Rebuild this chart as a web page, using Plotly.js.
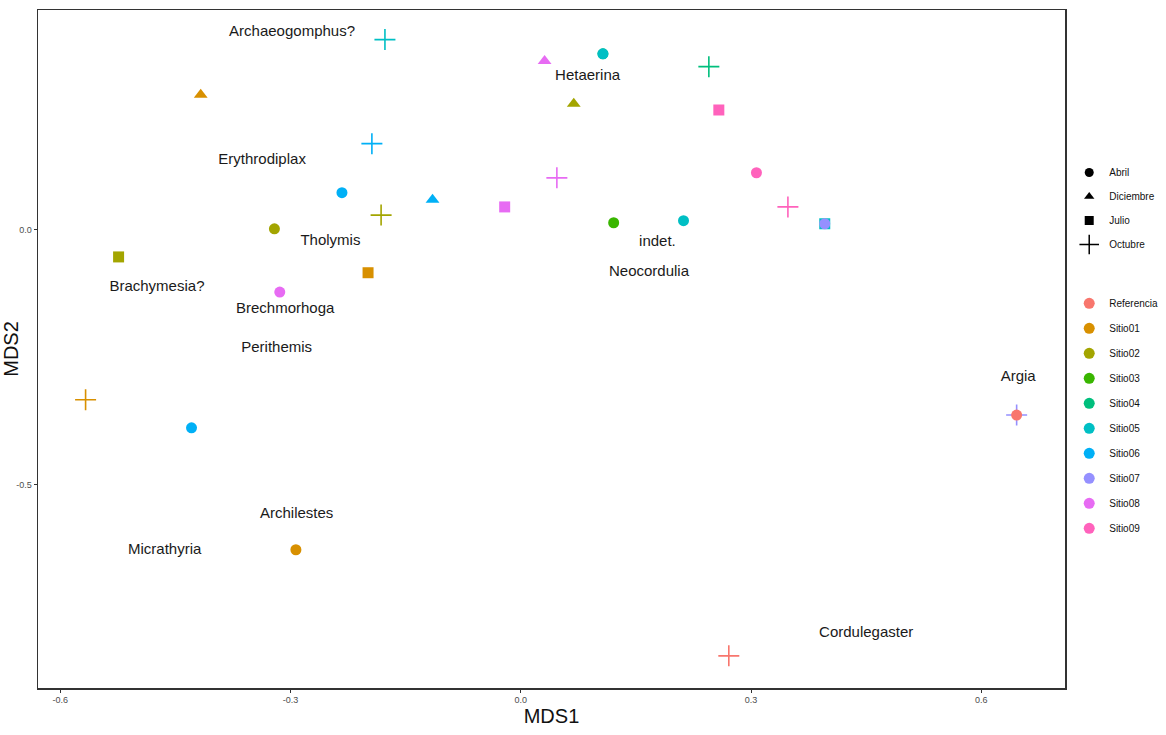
<!DOCTYPE html>
<html>
<head>
<meta charset="utf-8">
<script src="https://cdn.plot.ly/plotly-3.0.1.min.js"></script>
<style>html,body{margin:0;padding:0;background:#fff}#chart{width:1166px;height:735px}</style>
</head>
<body>
<div id="chart"></div>
<script>
// ---- data ----
const sites = ["Referencia","Sitio01","Sitio02","Sitio03","Sitio04","Sitio05","Sitio06","Sitio07","Sitio08","Sitio09"];
const siteColors = ["#F8766D","#D89000","#A3A500","#39B600","#00BF7D","#00BFC4","#00B0F6","#9590FF","#E76BF3","#FF62BC"];
const seasons = ["Abril","Diciembre","Julio","Octubre"];

const ptSite   = ["Sitio05","Sitio08","Sitio04","Sitio05","Sitio04","Sitio01","Sitio02","Sitio09","Sitio06","Sitio09","Sitio08","Sitio06","Sitio06","Sitio08","Sitio09","Sitio02","Sitio02","Sitio03","Sitio05","Sitio05","Sitio07","Sitio02","Sitio01","Sitio08","Sitio01","Sitio06","Sitio07","Referencia","Sitio01","Referencia"];
const ptSeason = ["Octubre","Diciembre","Abril","Abril","Octubre","Diciembre","Diciembre","Julio","Octubre","Abril","Octubre","Abril","Diciembre","Julio","Octubre","Octubre","Abril","Abril","Abril","Julio","Abril","Julio","Julio","Abril","Octubre","Abril","Octubre","Abril","Abril","Octubre"];
const mds1 = [-0.177,0.031,0.107,0.107,0.245,-0.417,0.069,0.258,-0.194,0.307,0.047,-0.233,-0.115,-0.021,0.348,-0.182,-0.321,0.121,0.212,0.396,0.396,-0.524,-0.199,-0.314,-0.567,-0.429,0.646,0.646,-0.293,0.271];
const mds2 = [0.373,0.331,0.345,0.345,0.320,0.265,0.247,0.235,0.169,0.112,0.102,0.073,0.059,0.045,0.045,0.029,0.002,0.014,0.018,0.012,0.012,-0.053,-0.084,-0.122,-0.333,-0.388,-0.363,-0.363,-0.627,-0.835];

const taxa  = ["Archaeogomphus?","Hetaerina","Erythrodiplax","Tholymis","indet.","Neocordulia","Brachymesia?","Brechmorhoga","Perithemis","Argia","Archilestes","Micrathyria","Cordulegaster"];
const taxaX = [-0.298,0.087,-0.337,-0.248,0.178,0.167,-0.474,-0.307,-0.318,0.648,-0.292,-0.464,0.450];
const taxaY = [0.388,0.302,0.137,-0.022,-0.024,-0.084,-0.112,-0.155,-0.233,-0.288,-0.557,-0.627,-0.790];

// ---- styling ----
const FONT = "'Liberation Sans', Arial, sans-serif";
const symbolOf = {"Abril":"circle","Diciembre":"triangle-up","Julio":"square","Octubre":"cross-thin-open"};
const sizeOf = {"Abril":11,"Diciembre":12,"Julio":11,"Octubre":15};

const traces = [];
// draw order: Sitio01..Sitio09 then Referencia on top
const order = [1,2,3,4,5,6,7,8,9,0];
order.forEach(si => {
  const s = sites[si];
  const idx = ptSite.map((v,i)=>v===s?i:-1).filter(i=>i>=0);
  if (!idx.length) return;
  traces.push({
    type:"scatter", mode:"markers", showlegend:false, hoverinfo:"skip",
    x: idx.map(i=>mds1[i]), y: idx.map(i=>mds2[i]),
    marker:{
      color: siteColors[si], opacity:1,
      symbol: idx.map(i=>symbolOf[ptSeason[i]]),
      size: idx.map(i=>sizeOf[ptSeason[i]]),
      line:{color: siteColors[si], width: idx.map(i=>ptSeason[i]==="Octubre"?1.6:0)}
    }
  });
});
// taxa labels
traces.push({
  type:"scatter", mode:"text", showlegend:false, hoverinfo:"skip",
  x: taxaX, y: taxaY, text: taxa,
  textfont:{family:FONT, size:15, color:"#1a1a1a"}
});
// shape legend
seasons.forEach((se, k) => {
  traces.push({
    type:"scatter", mode:"markers", x:[null], y:[null], name:se,
    legend:"legend", legendgroup:"se"+k,
    marker:{color:"#000", symbol:symbolOf[se], size: se==="Octubre"?14:9, line:{color:"#000", width: se==="Octubre"?1.5:0}}
  });
});
// colour legend
sites.forEach((s, si) => {
  traces.push({
    type:"scatter", mode:"markers", x:[null], y:[null], name:s,
    legend:"legend2", legendgroup:"si"+si,
    marker:{color:siteColors[si], symbol:"circle", size:11}
  });
});

const axisCommon = {
  showgrid:false, zeroline:false, showline:true, mirror:true,
  linecolor:"#333", linewidth:1.5, ticks:"outside", ticklen:3, tickcolor:"#333",
  tickfont:{family:FONT, size:9, color:"#4d4d4d"}
};

const layout = {
  width:1166, height:735,
  paper_bgcolor:"#fff", plot_bgcolor:"#fff",
  margin:{l:38, r:101, t:10, b:47},
  xaxis: Object.assign({}, axisCommon, {
    range:[-0.629, 0.709], tickvals:[-0.6,-0.3,0,0.3,0.6], ticktext:["-0.6","-0.3","0.0","0.3","0.6"],
    title:{text:"MDS1", font:{family:FONT, size:20, color:"#111"}, standoff:4}
  }),
  yaxis: Object.assign({}, axisCommon, {
    range:[-0.898, 0.431], tickvals:[-0.5,0], ticktext:["-0.5","0.0"],
    title:{text:"MDS2", font:{family:FONT, size:20, color:"#111"}, standoff:4}
  }),
  legend:{xref:"container", yref:"container", x:0.917, xanchor:"left", y:0.785, yanchor:"top", bgcolor:"rgba(0,0,0,0)",
    font:{family:FONT, size:10, color:"#111"}, tracegroupgap:5, itemwidth:30},
  legend2:{xref:"container", yref:"container", x:0.917, xanchor:"left", y:0.607, yanchor:"top", bgcolor:"rgba(0,0,0,0)",
    font:{family:FONT, size:10, color:"#111"}, tracegroupgap:6, itemwidth:30},
  showlegend:true
};

Plotly.newPlot("chart", traces, layout, {displayModeBar:false, staticPlot:true});
</script>
</body>
</html>
